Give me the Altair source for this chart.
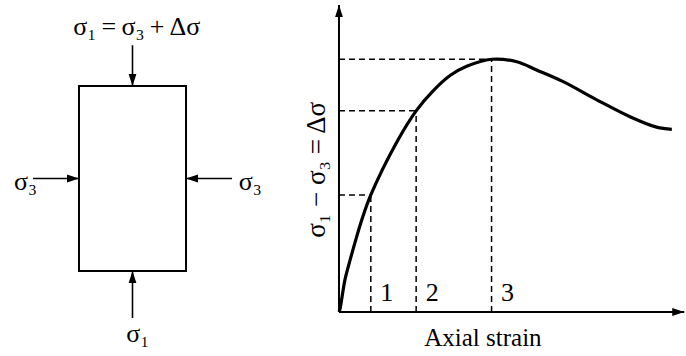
import altair as alt
import pandas as pd

SERIF = "Liberation Serif"

# ---------------- triaxial specimen sketch ----------------
# rectangle (specimen) in specimen units, centred on the origin
spec_half_w = 0.5
spec_half_h = 0.865

# load arrows: start -> tip, and the rotation of the arrowhead
arrow_x0 = [0.0, 0.0, -0.93, 0.93]
arrow_y0 = [1.245, -1.304, 0.0, 0.0]
arrow_x1 = [0.0, 0.0, -0.5, 0.5]
arrow_y1 = [0.865, -0.865, 0.0, 0.0]
arrow_angle = [180, 0, 90, 270]

# stress labels around the specimen
load_text = ["σ₁\u2009=\u2009σ₃\u2009+\u2009Δσ", "σ₃", "σ₃", "σ₁"]
load_text_x = [0.04, -1.0, 1.10, 0.05]
load_text_y = [1.42, -0.03, -0.03, -1.45]

# ---------------- stress-strain curve ----------------
strain = [0, 0.03, 0.17, 0.32, 0.46, 0.66, 0.92, 1.68, 2.23, 2.72, 3.21,
          3.69, 4.41, 5.14, 5.71, 6.48, 7.45, 8.41, 9.18, 9.62]
stress = [0, 0.10, 1.04, 1.69, 2.25, 3.00, 3.81, 5.55, 6.55, 7.20, 7.70,
          8.00, 8.23, 8.15, 7.88, 7.50, 6.91, 6.36, 6.02, 5.95]

state_label = ["1", "2", "3"]
state_strain = [0.92, 2.23, 4.41]
state_stress = [3.81, 6.55, 8.23]

axis_end_strain = 9.98
axis_end_stress = 10.0

ARROW = "M0,0L0.65,2L-0.65,2Z"

# ---------- left panel ----------
lx = alt.Scale(domain=[-1.238, 1.565], nice=False, zero=False)
ly = alt.Scale(domain=[-1.659, 1.668], nice=False, zero=False)

rect_df = pd.DataFrame({"x": [-spec_half_w], "x2": [spec_half_w],
                        "y": [-spec_half_h], "y2": [spec_half_h]})
arrow_df = pd.DataFrame({"x0": arrow_x0, "y0": arrow_y0, "x1": arrow_x1,
                         "y1": arrow_y1, "angle": arrow_angle})
load_df = pd.DataFrame({"t": load_text, "x": load_text_x, "y": load_text_y})

specimen = alt.Chart(rect_df).mark_rect(
    fill="white", stroke="black", strokeWidth=2
).encode(
    x=alt.X("x:Q", scale=lx, axis=None), x2="x2:Q",
    y=alt.Y("y:Q", scale=ly, axis=None), y2="y2:Q",
)
shafts = alt.Chart(arrow_df).mark_rule(color="black", strokeWidth=1.6).encode(
    x=alt.X("x0:Q", scale=lx, axis=None), x2="x1:Q",
    y=alt.Y("y0:Q", scale=ly, axis=None), y2="y1:Q",
)
heads = alt.Chart(arrow_df).mark_point(
    shape=ARROW, size=144, filled=True, color="black", opacity=1
).encode(
    x=alt.X("x1:Q", scale=lx, axis=None),
    y=alt.Y("y1:Q", scale=ly, axis=None),
    angle=alt.Angle("angle:Q", scale=None),
)
load_labels = alt.Chart(load_df).mark_text(
    font=SERIF, fontSize=26, color="black", baseline="middle"
).encode(
    x=alt.X("x:Q", scale=lx, axis=None),
    y=alt.Y("y:Q", scale=ly, axis=None),
    text="t:N",
)
left = alt.layer(specimen, shafts, heads, load_labels).properties(
    width=300, height=356
)

# ---------- right panel ----------
rx = alt.Scale(domain=[-1.127, 10.03], nice=False, zero=False)
ry = alt.Scale(domain=[-1.433, 10.16], nice=False, zero=False)

curve_df = pd.DataFrame({"strain": strain, "stress": stress})
state_df = pd.DataFrame({"label": state_label, "strain": state_strain,
                         "stress": state_stress, "zero": 0.0})
axes_df = pd.DataFrame({"x0": [0.0, 0.0], "y0": [0.0, 0.0],
                        "x1": [axis_end_strain, 0.0],
                        "y1": [0.0, axis_end_stress],
                        "angle": [90, 0]})

axis_lines = alt.Chart(axes_df).mark_rule(color="black", strokeWidth=2).encode(
    x=alt.X("x0:Q", scale=rx, axis=None), x2="x1:Q",
    y=alt.Y("y0:Q", scale=ry, axis=None), y2="y1:Q",
)
axis_heads = alt.Chart(axes_df).mark_point(
    shape=ARROW, size=144, filled=True, color="black", opacity=1
).encode(
    x=alt.X("x1:Q", scale=rx, axis=None),
    y=alt.Y("y1:Q", scale=ry, axis=None),
    angle=alt.Angle("angle:Q", scale=None),
)
h_guides = alt.Chart(state_df).mark_rule(
    color="black", strokeWidth=1.5, strokeDash=[6, 4]
).encode(
    x=alt.X("zero:Q", scale=rx, axis=None), x2="strain:Q",
    y=alt.Y("stress:Q", scale=ry, axis=None),
)
v_guides = alt.Chart(state_df).mark_rule(
    color="black", strokeWidth=1.5, strokeDash=[6, 4]
).encode(
    x=alt.X("strain:Q", scale=rx, axis=None),
    y=alt.Y("zero:Q", scale=ry, axis=None), y2="stress:Q",
)
curve = alt.Chart(curve_df).mark_line(
    color="black", strokeWidth=3.2, interpolate="catmull-rom"
).encode(
    x=alt.X("strain:Q", scale=rx, axis=None),
    y=alt.Y("stress:Q", scale=ry, axis=None),
)
state_text = alt.Chart(state_df).mark_text(
    font=SERIF, fontSize=26, color="black", dx=16, baseline="middle"
).encode(
    x=alt.X("strain:Q", scale=rx, axis=None),
    y=alt.Y("label_y:Q", scale=ry, axis=None),
    text="label:N",
).transform_calculate(label_y="0.62")

titles_df = pd.DataFrame({
    "t": ["Axial strain", "σ₁ − σ₃ = Δσ"],
    "x": [4.16, -0.64],
    "y": [-0.85, 4.63],
})
x_title = alt.Chart(titles_df.iloc[[0]]).mark_text(
    font=SERIF, fontSize=25, color="black", baseline="middle"
).encode(
    x=alt.X("x:Q", scale=rx, axis=None),
    y=alt.Y("y:Q", scale=ry, axis=None),
    text="t:N",
)
y_title = alt.Chart(titles_df.iloc[[1]]).mark_text(
    font=SERIF, fontSize=27, color="black", baseline="middle", angle=270
).encode(
    x=alt.X("x:Q", scale=rx, axis=None),
    y=alt.Y("y:Q", scale=ry, axis=None),
    text="t:N",
)

right = alt.layer(
    h_guides, v_guides, axis_lines, axis_heads, curve, state_text,
    x_title, y_title
).properties(width=386, height=356)

chart = alt.hconcat(left, right, spacing=0).properties(
    padding=0, background="white"
).configure_view(strokeWidth=0)

chart.save("out.html", embed_options={"renderer": "svg", "actions": False})
